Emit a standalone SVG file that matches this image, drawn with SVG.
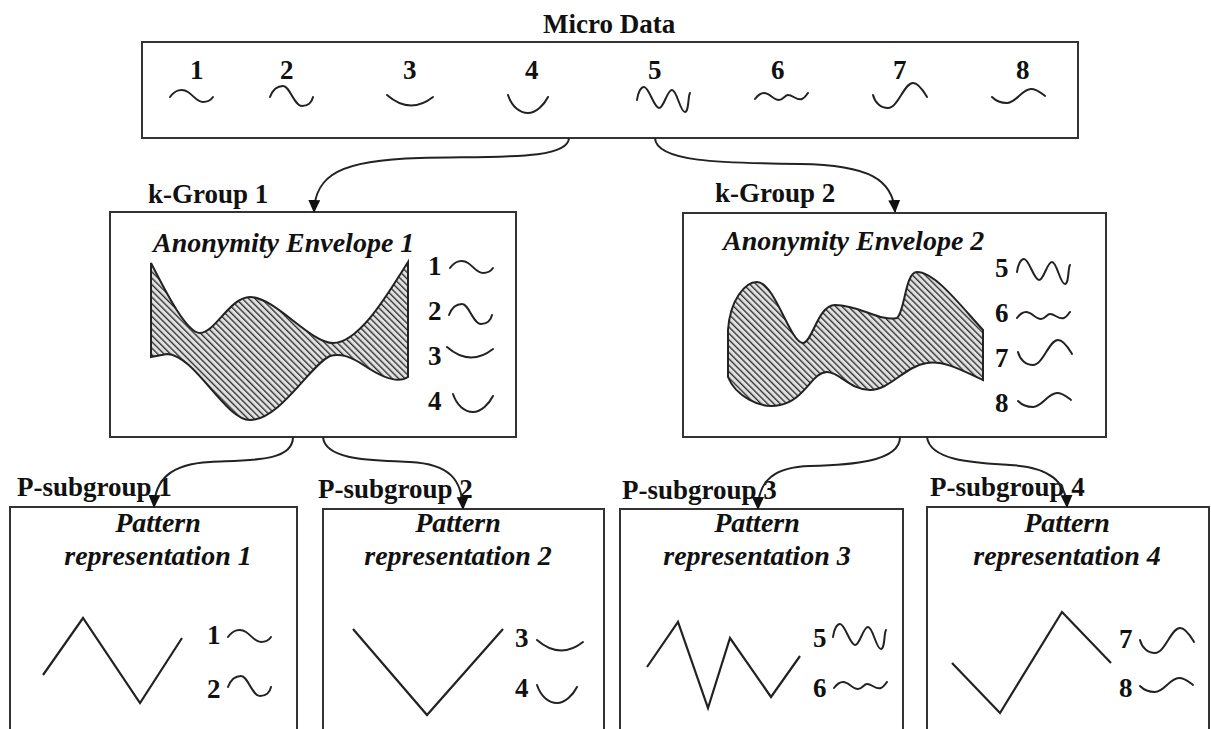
<svg xmlns="http://www.w3.org/2000/svg" xmlns:xlink="http://www.w3.org/1999/xlink" width="1211" height="729" viewBox="0 0 1211 729">
<style>
.box{fill:#fff;stroke:#333;stroke-width:2}
.lbl{font-family:"Liberation Serif","Times New Roman",serif;font-weight:bold;font-size:27px;fill:#111}
.num{font-family:"Liberation Serif","Times New Roman",serif;font-weight:bold;font-size:27px;fill:#111}
.it{font-family:"Liberation Serif","Times New Roman",serif;font-style:italic;font-weight:bold;font-size:28px;fill:#111}
.sq{fill:none;stroke:#222;stroke-width:2;stroke-linecap:round}
.zig{fill:none;stroke:#222;stroke-width:2.2}
.env{fill:url(#hatch);stroke:#222;stroke-width:2}
.con{fill:none;stroke:#222;stroke-width:2}
</style>
<defs>
<pattern id="hatch" patternUnits="userSpaceOnUse" width="4.5" height="4.5" patternTransform="rotate(-45)">
<rect width="4.5" height="4.5" fill="#e0e0e0"/>
<line x1="0" y1="0" x2="0" y2="4.5" stroke="#2a2a2a" stroke-width="2.6"/>
</pattern>
<marker id="arr" markerUnits="userSpaceOnUse" markerWidth="12" markerHeight="14" refX="12" refY="6" orient="auto">
<path d="M0,0 L13,6 L0,12 z" fill="#111"/>
</marker>
<path id="s1" d="M0,0 C5,-7 12,-9 18,-5 C24,-1 27,5 33,5 C38,5 41,3 43,0"/>
<path id="s2" d="M0,0 C3,-8 8,-11 13,-11 C20,-11 24,9 32,9 C38,9 42,5 43,0"/>
<path id="s3" d="M0,0 Q23,20 46,2"/>
<path id="s4" d="M0,0 C4,12 12,18 20,18 C28,18 36,10 40,2"/>
<path id="s5" d="M0,0 C1,-8 4,-13 7,-13 C12,-13 17,8 22,8 C27,8 30,-10 35,-10 C40,-10 43,12 48,12 C52,12 51,-5 53,-7"/>
<path id="s6" d="M0,0 C3,-4 6,-6 9,-6 C15,-6 18,1 24,1 C28,1 30,-4 33,-4 C38,-4 42,2 47,0 C50,-1 51,-4 53,-6"/>
<path id="s7" d="M0,0 C2,8 8,13 15,13 C25,13 31,-12 40,-12 C46,-12 51,-3 54,2"/>
<path id="s8" d="M0,0 C4,4 9,6 15,6 C24,6 30,-8 39,-8 C45,-8 49,-4 53,-1"/>
</defs>

<g id="micro-data">
<text class="lbl" x="543" y="33">Micro Data</text>
<rect class="box" x="142" y="42" width="936" height="96"/>
<text class="num" x="190" y="79">1</text>
<text class="num" x="280" y="79">2</text>
<text class="num" x="403" y="79">3</text>
<text class="num" x="525" y="79">4</text>
<text class="num" x="648" y="79">5</text>
<text class="num" x="771" y="79">6</text>
<text class="num" x="893" y="79">7</text>
<text class="num" x="1016" y="79">8</text>
<use href="#s1" class="sq" x="170" y="97"/>
<use href="#s2" class="sq" x="270" y="97"/>
<use href="#s3" class="sq" x="387" y="95"/>
<use href="#s4" class="sq" x="508" y="95"/>
<use href="#s5" class="sq" x="637" y="100"/>
<use href="#s6" class="sq" x="755" y="99"/>
<use href="#s7" class="sq" x="873" y="95"/>
<use href="#s8" class="sq" x="992" y="97"/>
</g>

<g id="k-group-1">
<text class="lbl" x="148" y="203">k-Group 1</text>
<rect class="box" x="110" y="212" width="406" height="225"/>
<text class="it" x="153" y="252">Anonymity Envelope 1</text>
<path class="env" d="M151,263 C160,280 185,333 200,333 C215,333 230,297 250,297 C275,297 310,343 333,343 C360,343 390,290 408,262 L408,377 C398,384 380,376 365,366 C350,356 340,353 330,356 C310,365 280,420 250,420 C225,420 195,355 167,354 L151,357 Z"/>
<text class="num" x="428" y="275">1</text>
<text class="num" x="428" y="320">2</text>
<text class="num" x="428" y="365">3</text>
<text class="num" x="428" y="410">4</text>
<use href="#s1" class="sq" x="450" y="268"/>
<use href="#s2" class="sq" x="449" y="315"/>
<use href="#s3" class="sq" x="447" y="347"/>
<use href="#s4" class="sq" x="453" y="394"/>
</g>

<g id="k-group-2">
<text class="lbl" x="715" y="202">k-Group 2</text>
<rect class="box" x="683" y="213" width="423" height="224"/>
<text class="it" x="723" y="250">Anonymity Envelope 2</text>
<path class="env" d="M728,330 C730,300 745,282 757,282 C775,282 790,343 803,343 C812,343 818,305 835,305 C860,305 880,322 897,318 C905,312 905,272 917,272 C935,272 960,305 983,330 L983,380 C965,372 945,360 927,363 C905,366 890,390 870,390 C850,390 840,372 827,372 C812,372 805,400 780,405 C760,410 735,395 728,377 Z"/>
<text class="num" x="995" y="277">5</text>
<text class="num" x="995" y="322">6</text>
<text class="num" x="995" y="367">7</text>
<text class="num" x="995" y="412">8</text>
<use href="#s5" class="sq" x="1017" y="272"/>
<use href="#s6" class="sq" x="1017" y="318"/>
<use href="#s7" class="sq" x="1018" y="352"/>
<use href="#s8" class="sq" x="1018" y="401"/>
</g>

<g id="p-subgroup-1">
<rect class="box" x="10" y="507" width="287" height="240"/>
<text class="lbl" x="17" y="496">P-subgroup 1</text>
<text class="it" x="158" y="532" text-anchor="middle">Pattern</text>
<text class="it" x="158" y="565" text-anchor="middle">representation 1</text>
<polyline class="zig" points="43,675 83,618 140,703 182,638"/>
<text class="num" x="207" y="644">1</text>
<text class="num" x="207" y="698">2</text>
<use href="#s1" class="sq" x="228" y="637"/>
<use href="#s2" class="sq" x="228" y="687"/>
</g>

<g id="p-subgroup-2">
<rect class="box" x="323" y="509" width="281" height="240"/>
<text class="lbl" x="318" y="498">P-subgroup 2</text>
<text class="it" x="458" y="532" text-anchor="middle">Pattern</text>
<text class="it" x="458" y="565" text-anchor="middle">representation 2</text>
<polyline class="zig" points="353,629 427,715 503,629"/>
<text class="num" x="515" y="647">3</text>
<text class="num" x="515" y="697">4</text>
<use href="#s3" class="sq" x="537" y="640"/>
<use href="#s4" class="sq" x="537" y="685"/>
</g>

<g id="p-subgroup-3">
<rect class="box" x="620" y="509" width="283" height="240"/>
<text class="lbl" x="622" y="499">P-subgroup 3</text>
<text class="it" x="757" y="532" text-anchor="middle">Pattern</text>
<text class="it" x="757" y="565" text-anchor="middle">representation 3</text>
<polyline class="zig" points="647,667 678,622 708,708 730,638 771,697 800,656"/>
<text class="num" x="813" y="647">5</text>
<text class="num" x="813" y="697">6</text>
<use href="#s5" class="sq" x="833" y="637"/>
<use href="#s6" class="sq" x="834" y="688"/>
</g>

<g id="p-subgroup-4">
<rect class="box" x="927" y="507" width="282" height="240"/>
<text class="lbl" x="930" y="496">P-subgroup 4</text>
<text class="it" x="1067" y="532" text-anchor="middle">Pattern</text>
<text class="it" x="1067" y="565" text-anchor="middle">representation 4</text>
<polyline class="zig" points="952,663 1000,713 1062,612 1111,663"/>
<text class="num" x="1119" y="648">7</text>
<text class="num" x="1119" y="697">8</text>
<use href="#s7" class="sq" x="1140" y="640"/>
<use href="#s8" class="sq" x="1140" y="686"/>
</g>

<g id="connectors">
<path class="con" marker-end="url(#arr)" d="M569,138 C568,160 500,156 420,158 C340,160 315,175 314,212"/>
<path class="con" marker-end="url(#arr)" d="M655,138 C656,162 720,163 800,164 C870,165 893,180 895,212"/>
<path class="con" marker-end="url(#arr)" d="M293,437 C293,462 250,460 210,462 C170,464 155,480 154,507"/>
<path class="con" marker-end="url(#arr)" d="M323,437 C325,462 380,460 410,462 C450,464 462,480 463,509"/>
<path class="con" marker-end="url(#arr)" d="M900,437 C900,462 850,465 810,466 C775,467 758,480 758,509"/>
<path class="con" marker-end="url(#arr)" d="M927,437 C930,462 980,463 1010,465 C1050,467 1066,482 1067,507"/>
</g>
</svg>
